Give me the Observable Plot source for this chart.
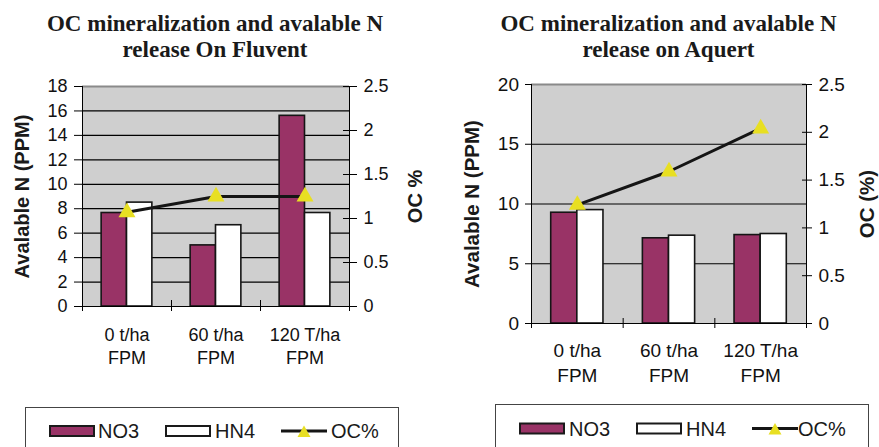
<!DOCTYPE html>
<html>
<head>
<meta charset="utf-8">
<script src="https://cdn.jsdelivr.net/npm/d3@7"></script>
<script src="https://cdn.jsdelivr.net/npm/@observablehq/plot@0.6"></script>
<style>
  body { margin: 0; background: #fff; }
  #page { position: relative; width: 879px; height: 447px; overflow: hidden;
          font-family: "Liberation Sans", Arial, sans-serif; color: #111; }
  .title { position: absolute; top: 10.7px; font-family: "Liberation Serif", "Times New Roman", serif;
           font-weight: bold; font-size: 23px; line-height: 26.6px; text-align: center; color: #1a1a1a; }
  .chart { position: absolute; top: 70px; }
  #legends { position: absolute; left: 0; top: 0; }
</style>
</head>
<body>
<div id="page">
  <div class="title" style="left:0;width:430px">OC mineralization and avalable N<br>release On Fluvent</div>
  <div class="title" style="left:449px;width:439px">OC mineralization and avalable N<br>release on Aquert</div>
  <div id="fluvent" class="chart" style="left:0"></div>
  <div id="aquert" class="chart" style="left:440px"></div>
  <svg id="legends" width="879" height="447"></svg>
</div>
<script>
// Treatments (farmyard poultry manure rates)
const categories = ["0 t/ha\nFPM", "60 t/ha\nFPM", "120 T/ha\nFPM"];
const seriesNames = ["NO3", "HN4", "OC%"];

// Fluvent soil
const fluventNO3 = [7.65, 5.0, 15.6];
const fluventHN4 = [8.5, 6.65, 7.65];
const fluventOC = [1.07, 1.25, 1.25];
const fluventNTicks = [0, 2, 4, 6, 8, 10, 12, 14, 16, 18];

// Aquert soil
const aquertNO3 = [9.27, 7.13, 7.4];
const aquertHN4 = [9.49, 7.35, 7.49];
const aquertOC = [1.24, 1.59, 2.04];
const aquertNTicks = [0, 5, 10, 15, 20];

// Secondary axis (organic carbon, %)
const ocTicks = [0, 0.5, 1, 1.5, 2, 2.5];

const no3Color = "#993366";
const hn4Color = "#ffffff";
const ocColor = "#e8df22";
const plotFill = "#cfcfcf";
const barWidth = 0.285;
const fmtOC = d3.format(".2~f");

function drawChart(cfg) {
  const {no3, hn4, oc, nTicks, nTitle, ocTitle, width, height, margin, tick, fontSize, titleSize, titleDx} = cfg;
  const nMax = d3.max(nTicks);
  const ocMax = d3.max(ocTicks);
  const k = nMax / ocMax; // OC values drawn on the nitrogen scale
  const n = categories.length;
  const rows = categories.map((c, i) => ({i, c, no3: no3[i], hn4: hn4[i], oc: oc[i] * k}));
  const bounds = d3.range(n + 1).map(j => j - 0.5);
  const ocPos = ocTicks.map(t => t * k);
  return Plot.plot({
    width, height,
    marginLeft: margin.left, marginRight: margin.right, marginTop: margin.top, marginBottom: margin.bottom,
    x: {type: "linear", domain: [-0.5, n - 0.5]},
    y: {domain: [0, nMax]},
    style: {fontFamily: "'Liberation Sans', Arial, sans-serif", background: "transparent", color: "#111", overflow: "visible"},
    marks: [
      Plot.frame({fill: plotFill, stroke: null}),
      Plot.gridY(nTicks.filter(t => t < nMax), {stroke: "#000", strokeOpacity: 1, strokeWidth: 1.2}),
      Plot.ruleY([nMax], {stroke: "#8a8a8a", strokeWidth: 2}),
      Plot.rect(rows, {x1: d => d.i - barWidth, x2: "i", y1: 0, y2: "no3", fill: no3Color, stroke: "#151515", strokeWidth: 1.6}),
      Plot.rect(rows, {x1: "i", x2: d => d.i + barWidth, y1: 0, y2: "hn4", fill: hn4Color, stroke: "#151515", strokeWidth: 1.6}),
      Plot.ruleY([0], {stroke: "#000"}),
      Plot.ruleX([-0.5, n - 0.5], {stroke: "#000"}),
      Plot.line(rows, {x: "i", y: "oc", stroke: "#151515", strokeWidth: 3}),
      Plot.dot(rows, {x: "i", y: "oc", symbol: "triangle", r: 6.3, fill: ocColor, stroke: null}),
      Plot.axisY(nTicks, {anchor: "left", tickSize: tick.leftOut, tickPadding: tick.leftPad, fontSize, label: null, stroke: "#000"}),
      Plot.axisY(ocPos, {anchor: "right", tickSize: tick.rightOut, tickPadding: tick.rightPad, tickFormat: v => fmtOC(v / k), fontSize, label: null, stroke: "#000"}),
      Plot.ruleY(ocPos, {x1: n - 0.5, x2: n - 0.5, insetLeft: -tick.rightIn, stroke: "#000"}),
      Plot.ruleX(bounds, {y1: 0, y2: 0, insetTop: -tick.xUp, insetBottom: -tick.xDown, stroke: "#000"}),
      Plot.axisX(d3.range(n), {anchor: "bottom", tickSize: 0, tickPadding: tick.xPad, tickFormat: i => categories[i], fontSize, lineHeight: 1.28, label: null}),
      Plot.text([nTitle], {frameAnchor: "left", textAnchor: "middle", rotate: -90, dx: titleDx.left, fontWeight: "bold", fontSize: titleSize, fill: "#1a1a1a"}),
      Plot.text([ocTitle], {frameAnchor: "right", textAnchor: "middle", rotate: -90, dx: titleDx.right, fontWeight: "bold", fontSize: titleSize, fill: "#1a1a1a"})
    ]
  });
}

document.getElementById("fluvent").append(drawChart({
  no3: fluventNO3, hn4: fluventHN4, oc: fluventOC, nTicks: fluventNTicks,
  nTitle: "Avalable N (PPM)", ocTitle: "OC %",
  width: 440, height: 320,
  margin: {left: 82, right: 91, top: 16, bottom: 84},
  tick: {leftOut: 8, leftPad: 7, rightOut: 7, rightIn: 6, rightPad: 7, xUp: 6, xDown: 5, xPad: 18},
  fontSize: 18, titleSize: 20, titleDx: {left: -60, right: 66}
}));

document.getElementById("aquert").append(drawChart({
  no3: aquertNO3, hn4: aquertHN4, oc: aquertOC, nTicks: aquertNTicks,
  nTitle: "Avalable N (PPM)", ocTitle: "OC (%)",
  width: 439, height: 320,
  margin: {left: 91, right: 73, top: 14, bottom: 67},
  tick: {leftOut: 6, leftPad: 6.5, rightOut: 5, rightIn: 4, rightPad: 7, xUp: 5, xDown: 5, xPad: 16.5},
  fontSize: 19, titleSize: 20.5, titleDx: {left: -59, right: 61}
}));

// Legends below each chart
const legendLayouts = [
  {box: [25.5, 407.5, 373], y: 431, items: [50, 166, 281], texts: [98, 215, 331]},
  {box: [495.5, 404.5, 373], y: 428.5, items: [520, 637, 752], texts: [569, 686, 798]}
];
const svg = d3.select("#legends");
for (const L of legendLayouts) {
  const g = svg.append("g");
  g.append("rect").attr("x", L.box[0]).attr("y", L.box[1]).attr("width", L.box[2]).attr("height", 80)
    .attr("fill", "none").attr("stroke", "#444").attr("stroke-width", 1);
  // NO3 and HN4 swatches
  [no3Color, hn4Color].forEach((c, j) => {
    g.append("rect").attr("x", L.items[j]).attr("y", L.y - 5).attr("width", 44).attr("height", 10)
      .attr("fill", c).attr("stroke", "#1a1a1a").attr("stroke-width", 2);
  });
  // OC% line with triangle marker
  const x0 = L.items[2], x1 = x0 + 46, xm = (x0 + x1) / 2;
  g.append("line").attr("x1", x0).attr("x2", x1).attr("y1", L.y).attr("y2", L.y)
    .attr("stroke", "#151515").attr("stroke-width", 3);
  g.append("path").attr("d", `M${xm},${L.y - 5.5}L${xm + 6.5},${L.y + 6}L${xm - 6.5},${L.y + 6}Z`).attr("fill", ocColor);
  seriesNames.forEach((s, j) => {
    g.append("text").attr("x", L.texts[j]).attr("y", L.y + 7).attr("font-size", 20)
      .attr("font-family", "'Liberation Sans', Arial, sans-serif").attr("fill", "#1a1a1a").text(s);
  });
}
</script>
</body>
</html>
